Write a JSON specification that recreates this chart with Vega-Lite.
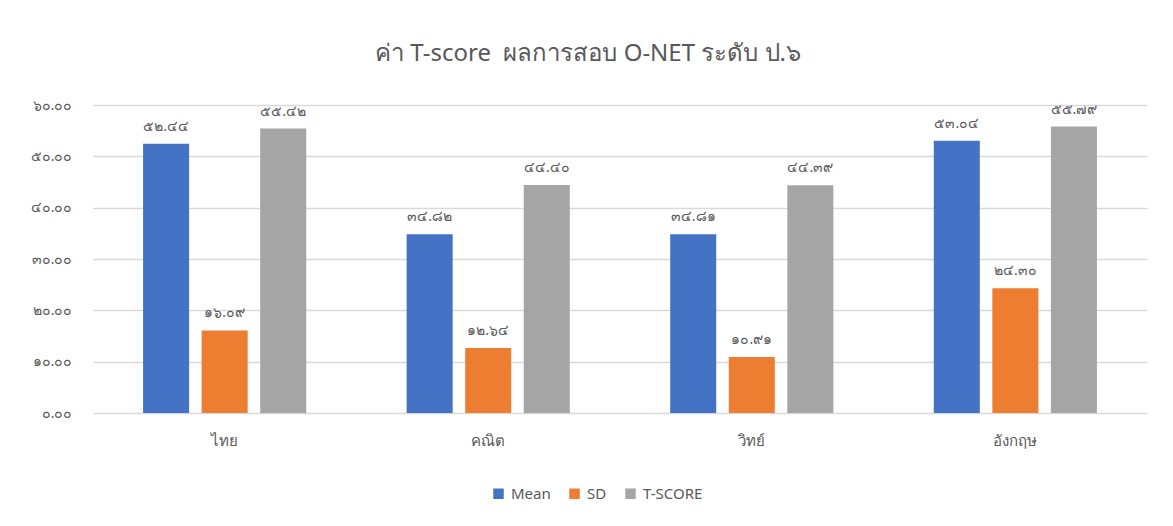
{
  "$schema": "https://vega.github.io/schema/vega-lite/v6.json",
  "autosize": "none",
  "width": 1054,
  "height": 308,
  "padding": {"left": 93, "top": 105, "right": 26, "bottom": 113},
  "background": "white",
  "title": {
    "text": "ค่า T-score \u00a0ผลการสอบ O-NET ระดับ ป.๖",
    "fontSize": 24,
    "font": "Noto Sans",
    "fontWeight": "normal",
    "color": "#595959",
    "anchor": "middle",
    "dx": -32,
    "offset": 32
  },
  "data": {
    "values": [
      {"subject": "ไทย", "series": "Mean", "value": 52.44, "label": "๕๒.๔๔"},
      {"subject": "ไทย", "series": "SD", "value": 16.09, "label": "๑๖.๐๙"},
      {"subject": "ไทย", "series": "T-SCORE", "value": 55.42, "label": "๕๕.๔๒"},
      {"subject": "คณิต", "series": "Mean", "value": 34.82, "label": "๓๔.๘๒"},
      {"subject": "คณิต", "series": "SD", "value": 12.64, "label": "๑๒.๖๔"},
      {"subject": "คณิต", "series": "T-SCORE", "value": 44.40, "label": "๔๔.๔๐"},
      {"subject": "วิทย์", "series": "Mean", "value": 34.81, "label": "๓๔.๘๑"},
      {"subject": "วิทย์", "series": "SD", "value": 10.91, "label": "๑๐.๙๑"},
      {"subject": "วิทย์", "series": "T-SCORE", "value": 44.39, "label": "๔๔.๓๙"},
      {"subject": "อังกฤษ", "series": "Mean", "value": 53.04, "label": "๕๓.๐๔"},
      {"subject": "อังกฤษ", "series": "SD", "value": 24.30, "label": "๒๔.๓๐"},
      {"subject": "อังกฤษ", "series": "T-SCORE", "value": 55.79, "label": "๕๕.๗๙"}
    ]
  },
  "encoding": {
    "x": {
      "field": "subject",
      "type": "nominal",
      "sort": ["ไทย", "คณิต", "วิทย์", "อังกฤษ"],
      "scale": {"paddingInner": 0.381, "paddingOuter": 0.19},
      "axis": {
        "title": null,
        "labelAngle": 0,
        "labelFontSize": 15,
        "labelFont": "Noto Sans",
        "labelColor": "#595959",
        "labelPadding": 20,
        "ticks": false,
        "tickSize": 0,
        "domain": false
      }
    },
    "xOffset": {
      "field": "series",
      "type": "nominal",
      "sort": ["Mean", "SD", "T-SCORE"],
      "scale": {"paddingInner": 0.214, "paddingOuter": 0}
    },
    "y": {
      "field": "value",
      "type": "quantitative",
      "scale": {"domain": [0, 60], "nice": false},
      "axis": {
        "title": null,
        "values": [0, 10, 20, 30, 40, 50, 60],
        "labelExpr": "replace(replace(replace(replace(replace(replace(replace(format(datum.value, '.2f'), regexp('0','g'), '๐'), regexp('1','g'), '๑'), regexp('2','g'), '๒'), regexp('3','g'), '๓'), regexp('4','g'), '๔'), regexp('5','g'), '๕'), regexp('6','g'), '๖')",
        "labelFontSize": 14,
        "labelFont": "Noto Sans",
        "labelColor": "#595959",
        "labelPadding": 21,
        "ticks": false,
        "tickSize": 0,
        "domain": false,
        "grid": true,
        "gridColor": "#d9d9d9",
        "gridWidth": 1.5
      }
    }
  },
  "layer": [
    {
      "mark": {"type": "bar"},
      "encoding": {
        "color": {
          "field": "series",
          "type": "nominal",
          "sort": ["Mean", "SD", "T-SCORE"],
          "scale": {"domain": ["Mean", "SD", "T-SCORE"], "range": ["#4472c4", "#ed7d31", "#a5a5a5"]},
          "legend": {
            "title": null,
            "orient": "none",
            "direction": "horizontal",
            "legendX": 398,
            "legendY": 381,
            "symbolType": "square",
            "symbolSize": 110,
            "symbolStrokeWidth": 0,
            "labelFontSize": 15,
            "labelFont": "Noto Sans",
            "labelColor": "#595959",
            "columnPadding": 16,
            "labelOffset": 5
          }
        }
      }
    },
    {
      "mark": {"type": "text", "baseline": "bottom", "dy": -10, "fontSize": 14, "font": "Noto Sans", "color": "#595959"},
      "encoding": {
        "text": {"field": "label", "type": "nominal"}
      }
    }
  ],
  "config": {"view": {"stroke": null}}
}
